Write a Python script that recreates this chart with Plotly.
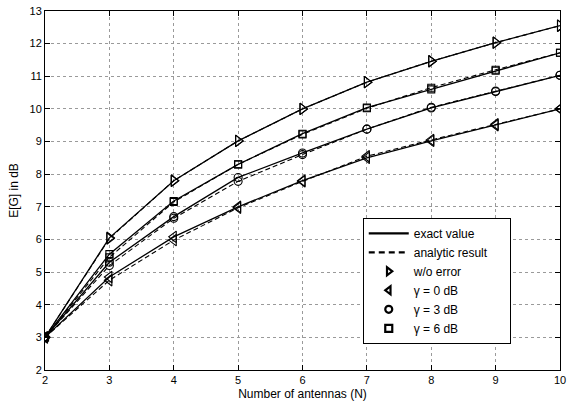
import plotly.graph_objects as go

# Number of antennas
antennas = [2, 3, 4, 5, 6, 7, 8, 9, 10]

# Exact values of E[G] in dB
exact_wo_error = [3.0, 6.05, 7.80, 9.02, 10.00, 10.82, 11.46, 12.03, 12.55]
exact_gamma0 = [3.0, 4.85, 6.08, 7.00, 7.80, 8.50, 9.02, 9.50, 10.00]
exact_gamma3 = [3.0, 5.30, 6.70, 7.90, 8.65, 9.38, 10.03, 10.53, 11.03]
exact_gamma6 = [3.0, 5.55, 7.18, 8.30, 9.24, 10.04, 10.60, 11.17, 11.72]

# Analytic approximations of E[G] in dB
analytic_wo_error = [3.0, 6.03, 7.80, 9.02, 10.00, 10.82, 11.46, 12.03, 12.55]
analytic_gamma0 = [3.0, 4.75, 5.98, 6.97, 7.78, 8.55, 9.05, 9.53, 10.00]
analytic_gamma3 = [3.0, 5.20, 6.65, 7.78, 8.60, 9.38, 10.05, 10.55, 11.03]
analytic_gamma6 = [3.0, 5.45, 7.15, 8.30, 9.22, 10.02, 10.65, 11.20, 11.72]

series = [
    ("w/o error", exact_wo_error, analytic_wo_error, "triangle-right-open", 10),
    ("γ = 0 dB", exact_gamma0, analytic_gamma0, "triangle-left-open", 10),
    ("γ = 3 dB", exact_gamma3, analytic_gamma3, "circle-open", 8),
    ("γ = 6 dB", exact_gamma6, analytic_gamma6, "square-open", 7),
]

fig = go.Figure()

for name, ex, an, sym, sz in series:
    fig.add_trace(go.Scatter(
        x=antennas, y=an, mode="lines+markers", showlegend=False,
        line=dict(color="black", width=1.1, dash="5px,3px"),
        marker=dict(symbol=sym, size=sz, color="black", line=dict(width=1.1, color="black")),
    ))
    fig.add_trace(go.Scatter(
        x=antennas, y=ex, mode="lines+markers", showlegend=False,
        line=dict(color="black", width=1.3),
        marker=dict(symbol=sym, size=sz, color="black", line=dict(width=1.1, color="black")),
    ))

# Legend entries (the widest label carries some trailing padding)
pad = "\u00a0" * 5
fig.add_trace(go.Scatter(x=[None], y=[None], mode="lines", name="exact value",
                         line=dict(color="black", width=2.2)))
fig.add_trace(go.Scatter(x=[None], y=[None], mode="lines", name="analytic result" + pad,
                         line=dict(color="black", width=2.2, dash="6px,4px")))
for name, ex, an, sym, sz in series:
    fig.add_trace(go.Scatter(x=[None], y=[None], mode="markers", name=name,
                             marker=dict(symbol=sym, size=7, color="black",
                                         line=dict(width=2.2, color="black"))))

axis_common = dict(
    showline=True, linecolor="black", linewidth=1, mirror="ticks",
    ticks="inside", ticklen=5, tickcolor="black",
    showgrid=True, gridcolor="#9a9a9a", griddash="dot", gridwidth=1,
    zeroline=False, tickfont=dict(size=11, color="black"),
    ticklabeloverflow="allow",
)

fig.update_layout(
    width=571, height=409,
    margin=dict(l=45, r=5, t=7, b=39),
    paper_bgcolor="white", plot_bgcolor="white",
    font=dict(family="Liberation Sans, Arial, sans-serif", size=11, color="black"),
    xaxis=dict(range=[2, 10], dtick=1, title=dict(text="Number of antennas (N)", standoff=4,
                                                   font=dict(size=12)), **axis_common),
    yaxis=dict(range=[2, 13], dtick=1, title=dict(text="E[G] in dB", standoff=8,
                                                   font=dict(size=12)), **axis_common),
    legend=dict(x=0.617, y=0.424, xanchor="left", yanchor="top",
                bgcolor="white", bordercolor="black", borderwidth=1,
                font=dict(size=12), tracegroupgap=0, itemwidth=40),
)

fig.write_html("out.html")
